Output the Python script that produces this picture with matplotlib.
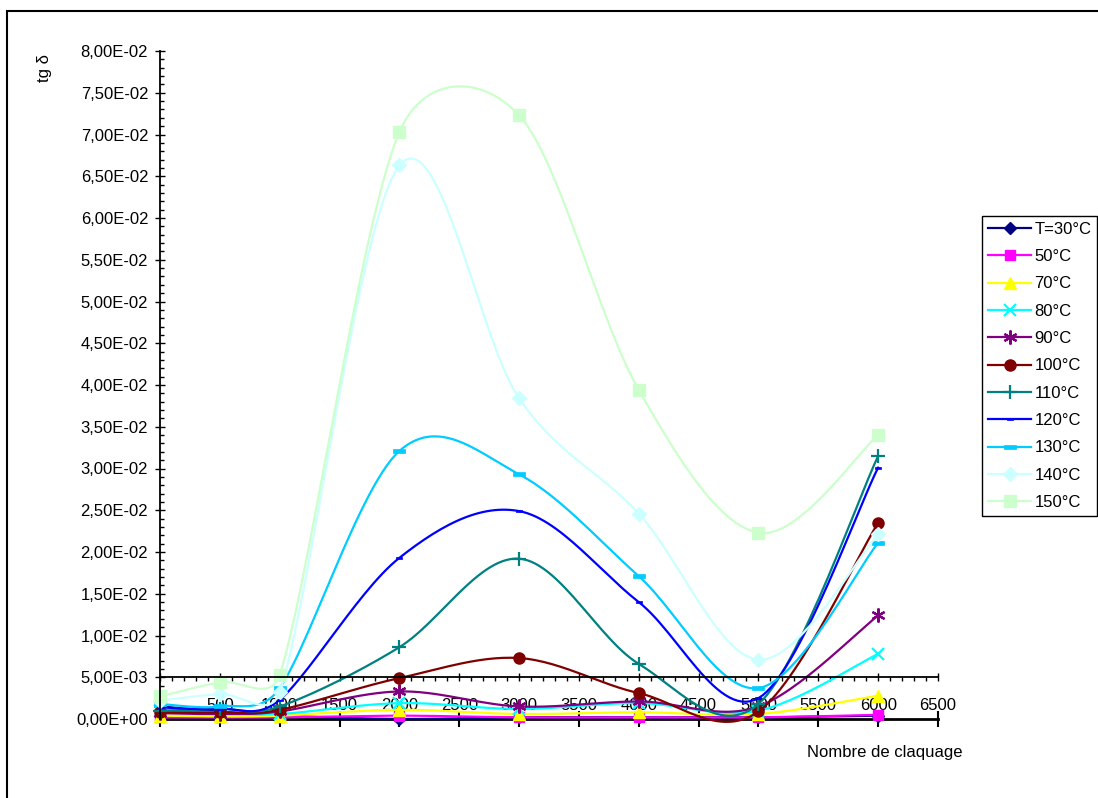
import numpy as np
import matplotlib
matplotlib.use("Agg")
import matplotlib.pyplot as plt
from matplotlib.path import Path
from matplotlib.patches import Rectangle
from matplotlib.ticker import MultipleLocator, FuncFormatter

plt.rcParams['font.family'] = ['Liberation Sans', 'DejaVu Sans']

# number of breakdowns (x) and tg delta for each temperature
nombre = [0, 500, 1000, 2000, 3000, 4000, 5000, 6000]
labels = ['T=30°C', '50°C', '70°C', '80°C', '90°C', '100°C',
          '110°C', '120°C', '130°C', '140°C', '150°C']

t30 = [0.0015, 0.0009, 0.0004, 0.0000, 0.0002, 0.0002, 0.0002, 0.0004]
t50 = [0.0002, 0.0002, 0.0002, 0.0004, 0.0002, 0.0002, 0.0002, 0.0005]
t70 = [0.0004, 0.0003, 0.0004, 0.0011, 0.0006, 0.0008, 0.0006, 0.0028]
t80 = [0.0010, 0.0008, 0.0006, 0.0019, 0.0012, 0.0019, 0.0010, 0.0078]
t90 = [0.0007, 0.0006, 0.0009, 0.0033, 0.0015, 0.0021, 0.0015, 0.0124]
t100 = [0.0008, 0.0008, 0.0011, 0.0049, 0.0073, 0.0031, 0.0009, 0.0235]
t110 = [0.0010, 0.0012, 0.0015, 0.0086, 0.0192, 0.0066, 0.0018, 0.0315]
t120 = [0.0014, 0.0012, 0.0023, 0.0193, 0.0249, 0.0140, 0.0025, 0.0301]
t130 = [0.0018, 0.0015, 0.0037, 0.0321, 0.0293, 0.0171, 0.0037, 0.0211]
t140 = [0.0022, 0.0030, 0.0032, 0.0663, 0.0384, 0.0246, 0.0071, 0.0221]
t150 = [0.0027, 0.0044, 0.0053, 0.0703, 0.0723, 0.0394, 0.0223, 0.0340]
series = [t30, t50, t70, t80, t90, t100, t110, t120, t130, t140, t150]

bar = Path([(-1, -0.35), (1, -0.35), (1, 0.35), (-1, 0.35), (-1, -0.35)],
           [Path.MOVETO, Path.LINETO, Path.LINETO, Path.LINETO, Path.CLOSEPOLY])

# colour, marker, marker size, marker edge width
styles = [
    ('#000080', 'D', 6, 1),
    ('#FF00FF', 's', 7, 1),
    ('#FFFF00', '^', 8, 1),
    ('#00FFFF', 'x', 8, 1.6),
    ('#800080', (6, 2, 0), 10, 1.6),
    ('#800000', 'o', 8, 1),
    ('#008080', '+', 10, 1.6),
    ('#0000FF', bar, 5, 0.5),
    ('#00CCFF', bar, 8, 0.5),
    ('#CCFFFF', 'D', 7, 1),
    ('#CCFFCC', 's', 8, 1),
]

N = 30
AX_W, AX_H = 778, 668          # axes size in pixels
SX, SY = AX_W / 6500, AX_H / 0.08


def excel_smooth(x, y):
    # bezier smoothing like excel "smoothed line", done in pixel space
    pts = np.column_stack([np.array(x) * SX, np.array(y) * SY])
    out = []
    for i in range(len(pts) - 1):
        p0 = pts[i - 1] if i > 0 else pts[i]
        p1, p2 = pts[i], pts[i + 1]
        p3 = pts[i + 2] if i + 2 < len(pts) else pts[i + 1]
        d12 = np.hypot(*(p2 - p1))
        v1 = (p2 - p0) / 6
        v2 = (p3 - p1) / 6
        l1, l2 = np.hypot(*v1), np.hypot(*v2)
        if l1 > d12 / 2:
            v1 = v1 * (d12 / 2) / l1
        if l2 > d12 / 2:
            v2 = v2 * (d12 / 2) / l2
        c1 = p1 + v1
        c2 = p2 - v2
        t = np.linspace(0, 1, N)[:, None]
        seg = (1 - t)**3 * p1 + 3 * (1 - t)**2 * t * c1 + 3 * (1 - t) * t**2 * c2 + t**3 * p2
        out.append(seg if i == 0 else seg[1:])
    out = np.vstack(out)
    return out[:, 0] / SX, out[:, 1] / SY


fig = plt.figure(figsize=(10.98, 7.98), dpi=100)
ax = fig.add_axes([160 / 1098, 1 - 719 / 798, AX_W / 1098, AX_H / 798])

marks = [i * (N - 1) for i in range(len(nombre))]
for vals, lab, (c, m, ms, mew) in zip(series, labels, styles):
    sx, sy = excel_smooth(nombre, vals)
    ax.plot(sx, sy, color=c, lw=1.6, marker=m, ms=ms, mew=mew,
            mfc=c, mec=c, markevery=marks, label=lab, clip_on=False)

ax.set_xlim(0, 6500)
ax.set_ylim(0, 0.08)

ax.spines['top'].set_visible(False)
ax.spines['right'].set_visible(False)
ax.spines['bottom'].set_position(('data', 0.005))
ax.spines['bottom'].set_linewidth(1.3)
ax.spines['left'].set_linewidth(1.3)

ax.xaxis.set_major_locator(MultipleLocator(500))
ax.xaxis.set_minor_locator(MultipleLocator(100))
ax.yaxis.set_major_locator(MultipleLocator(0.005))
ax.yaxis.set_minor_locator(MultipleLocator(0.001))
ax.yaxis.set_major_formatter(FuncFormatter(lambda v, p: f'{v:.2E}'.replace('.', ',')))

ax.tick_params(axis='x', which='major', direction='inout', length=6, width=1, pad=12, labelsize=12)
ax.tick_params(axis='x', which='minor', direction='out', length=3, width=1)
ax.tick_params(axis='y', which='major', direction='inout', length=7, width=1, pad=5, labelsize=12)
ax.tick_params(axis='y', which='minor', direction='in', length=3, width=1)

# second horizontal line at zero
sec = ax.secondary_xaxis(0)
sec.set_xticks(range(0, 7000, 500))
sec.set_xticklabels([])
sec.tick_params(direction='inout', length=12, width=1.5)
sec.spines['bottom'].set_linewidth(2)

fig.text(45 / 1098, 1 - 68 / 798, 'tg δ', rotation=90, ha='center', va='center', fontsize=12)
fig.text(885 / 1098, 1 - 753 / 798, 'Nombre de claquage', ha='center', va='center', fontsize=12)

leg = fig.legend(loc='upper left', bbox_to_anchor=(982 / 1098, 1 - 216 / 798),
                 fontsize=12, handlelength=2.6, labelspacing=0.74,
                 borderpad=0.35, handletextpad=0.2, fancybox=False,
                 edgecolor='black', framealpha=1, borderaxespad=0)
leg.get_frame().set_linewidth(1)

fig.patches.append(Rectangle((7 / 1098, -0.1), 1.2, 1 - 11 / 798 + 0.1,
                             transform=fig.transFigure, fill=False,
                             edgecolor='black', lw=1.5))

fig.savefig('out.png', dpi=100)
